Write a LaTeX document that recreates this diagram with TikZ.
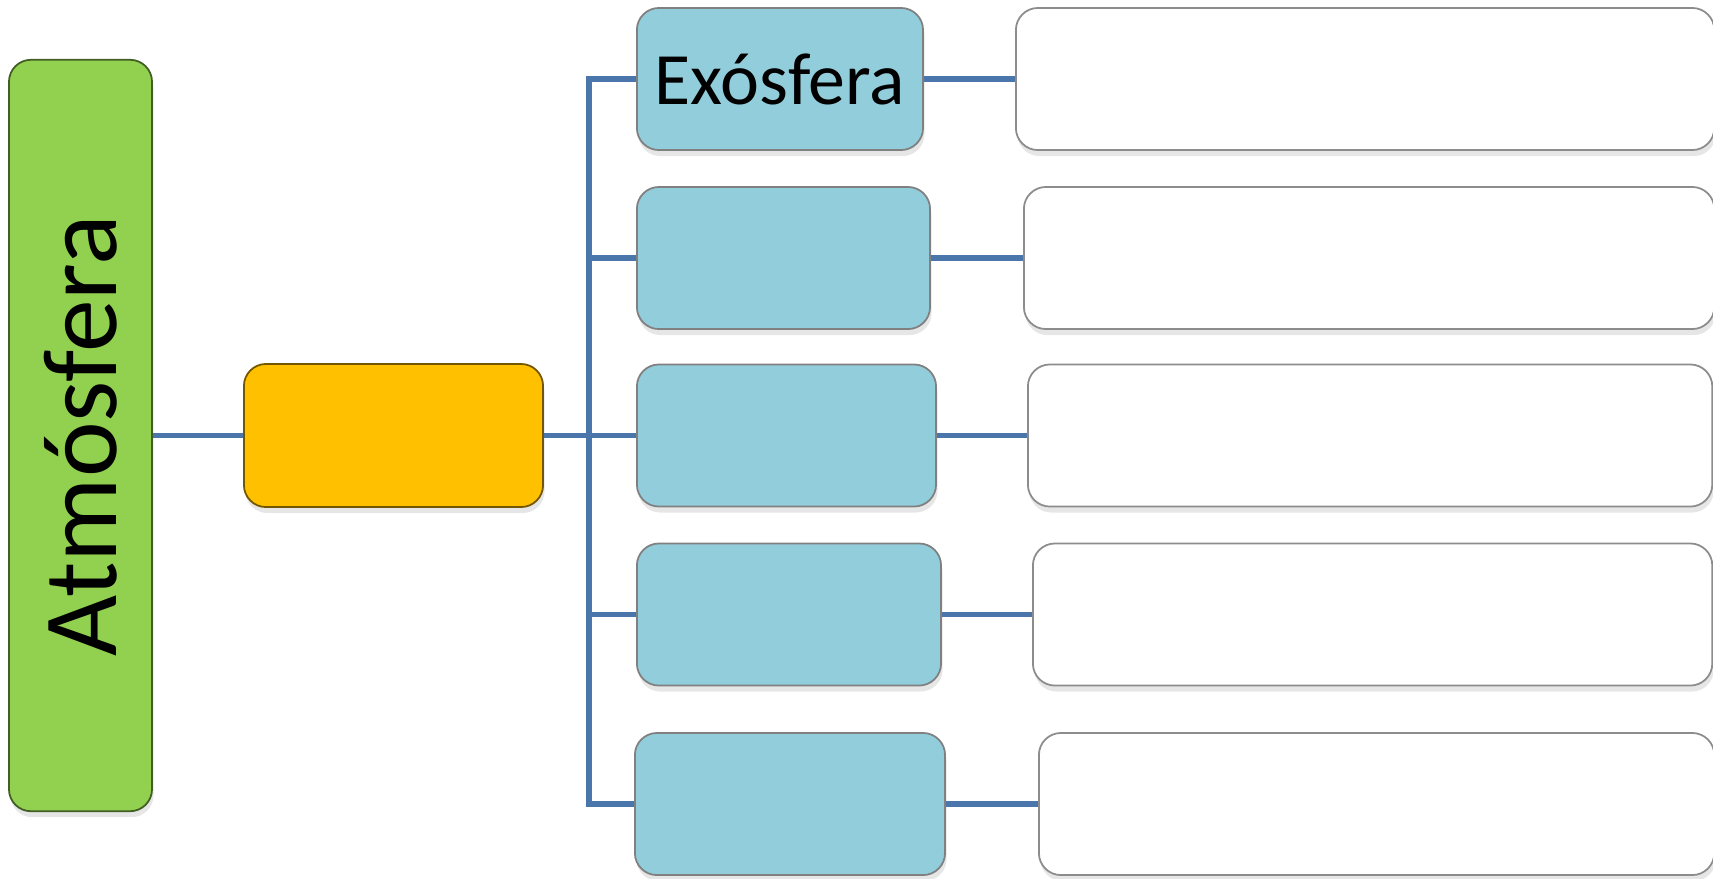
\documentclass[tikz,border=0pt]{standalone}
\usepackage{fontspec}
\setmainfont{Carlito}
\usetikzlibrary{shadows}
\definecolor{grassgreen}{HTML}{92D050}
\definecolor{amber}{HTML}{FFC000}
\definecolor{skyblue}{HTML}{92CDDC}
\definecolor{linkblue}{HTML}{4A76AC}

\begin{document}
\begin{tikzpicture}[x=0.01cm, y=-0.01cm,
    box/.style={rounded corners=2.2mm, inner sep=0pt, line width=0.5pt,
        drop shadow={shadow xshift=0.15mm, shadow yshift=-0.6mm, opacity=0.2}},
    topic/.style={box, fill=grassgreen, draw=grassgreen!45!black},
    hub/.style={box, fill=amber, draw=amber!45!black, minimum width=2.99cm, minimum height=1.43cm},
    layer/.style={box, fill=skyblue, draw=black!50, minimum height=1.42cm, anchor=west},
    note/.style={box, fill=white, draw=black!45, minimum height=1.42cm, anchor=west},
    link/.style={draw=linkblue, line width=1.5pt}]
    \useasboundingbox (0,0) rectangle (1713,878);

    \node[topic, minimum width=1.43cm, minimum height=7.51cm] (atm) at (80.5,435.5)
        {\rotatebox{90}{\fontsize{30}{36}\selectfont Atmósfera}};
    \node[hub] (hub) at (393.5,435.5) {};

    \node[layer, minimum width=2.86cm] (b1) at (636,79) {\fontsize{21}{25}\selectfont Exósfera};
    \node[layer, minimum width=2.93cm] (b2) at (636,258) {};
    \node[layer, minimum width=2.99cm] (b3) at (636,435.5) {};
    \node[layer, minimum width=3.04cm] (b4) at (636,614.5) {};
    \node[layer, minimum width=3.10cm] (b5) at (634,804) {};

    \node[note, minimum width=6.98cm] (w1) at (1015,79) {};
    \node[note, minimum width=6.90cm] (w2) at (1023,258) {};
    \node[note, minimum width=6.84cm] (w3) at (1027,435.5) {};
    \node[note, minimum width=6.79cm] (w4) at (1032,614.5) {};
    \node[note, minimum width=6.75cm] (w5) at (1038,804) {};

    \coordinate (trunk) at (589,435.5);
    \draw[link] (atm.east) -- (hub.west);
    \draw[link] (hub.east) -- (trunk);
    \draw[link] (trunk) |- (b1.west);
    \draw[link] (trunk) |- (b2.west);
    \draw[link] (trunk) -- (b3.west);
    \draw[link] (trunk) |- (b4.west);
    \draw[link] (trunk) |- (b5.west);
    \draw[link] (b1.east) -- (w1.west);
    \draw[link] (b2.east) -- (w2.west);
    \draw[link] (b3.east) -- (w3.west);
    \draw[link] (b4.east) -- (w4.west);
    \draw[link] (b5.east) -- (w5.west);
\end{tikzpicture}
\end{document}
